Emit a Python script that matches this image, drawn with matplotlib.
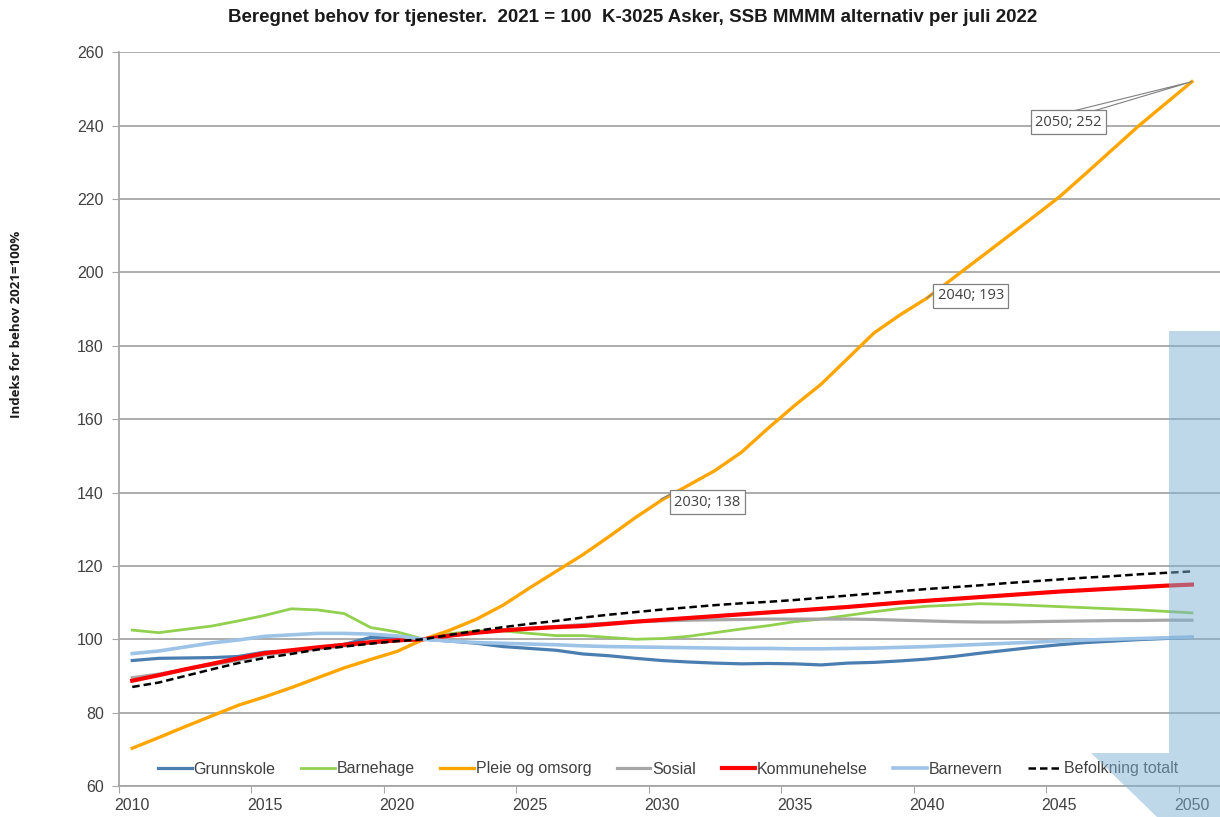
import numpy as np
import matplotlib
matplotlib.use('Agg')
import matplotlib.pyplot as plt
from matplotlib.patches import Polygon

plt.rcParams['font.family'] = ['Liberation Sans', 'DejaVu Sans']

years = list(range(2010, 2051))

grunnskole = [94.2, 94.8, 94.9, 95.0, 95.3, 96.5, 96.8, 97.6, 98.6, 100.5, 100.6,
              100.0, 99.5, 98.9, 98.0, 97.5, 97.0, 96.0, 95.5, 94.8, 94.2,
              93.8, 93.5, 93.3, 93.4, 93.3, 93.0, 93.5, 93.7, 94.1, 94.6,
              95.3, 96.2, 97.0, 97.8, 98.5, 99.1, 99.5, 99.9, 100.2, 100.5]
barnehage = [102.5, 101.8, 102.7, 103.6, 105.0, 106.5, 108.3, 108.0, 107.0, 103.2, 102.0,
             100.0, 101.5, 102.3, 102.3, 101.6, 101.0, 101.0, 100.5, 100.0, 100.2,
             100.8, 101.8, 102.8, 103.7, 104.8, 105.5, 106.5, 107.5, 108.4, 109.0,
             109.3, 109.7, 109.5, 109.2, 108.9, 108.6, 108.3, 108.0, 107.6, 107.2]
pleie = [70.3, 73.2, 76.2, 79.1, 82.0, 84.3, 86.8, 89.5, 92.2, 94.5, 96.7,
         100.0, 102.5, 105.5, 109.3, 114.0, 118.5, 123.0, 128.0, 133.2, 138.0,
         142.0, 146.0, 151.0, 157.5, 163.7, 169.5, 176.5, 183.5, 188.5, 193.0,
         198.5, 204.0, 209.5, 215.0, 220.6, 227.0, 233.5, 240.0, 246.0, 252.0]
sosial = [89.5, 90.5, 91.8, 93.0, 94.3, 95.8, 96.6, 97.4, 98.2, 99.0, 99.6,
          100.0, 101.0, 101.8, 102.5, 103.0, 103.5, 104.0, 104.4, 104.8, 105.0,
          105.2, 105.3, 105.4, 105.5, 105.5, 105.5, 105.5, 105.4, 105.2, 105.0,
          104.8, 104.7, 104.7, 104.8, 104.9, 105.0, 105.1, 105.1, 105.2, 105.2]
kommunehelse = [88.7, 90.2, 91.8, 93.3, 94.8, 96.2, 97.0, 97.8, 98.5, 99.2, 99.7,
                100.0, 101.0, 101.8, 102.4, 102.9, 103.3, 103.6, 104.2, 104.8, 105.3,
                105.8, 106.3, 106.8, 107.3, 107.8, 108.3, 108.8, 109.4, 110.0, 110.5,
                111.0, 111.5, 112.0, 112.5, 113.0, 113.4, 113.8, 114.2, 114.6, 114.9]
barnevern = [96.1, 96.8, 97.9, 99.0, 99.8, 100.8, 101.2, 101.6, 101.6, 101.4, 100.9,
             100.0, 99.5, 99.1, 98.9, 98.7, 98.5, 98.2, 98.0, 97.9, 97.8,
             97.7, 97.6, 97.5, 97.5, 97.4, 97.4, 97.5, 97.6, 97.8, 98.0,
             98.3, 98.6, 98.9, 99.2, 99.5, 99.8, 100.0, 100.2, 100.4, 100.6]
befolkning = [87.0, 88.2, 90.0, 91.8, 93.5, 94.9, 96.0, 97.2, 98.0, 98.8, 99.5,
              100.0, 101.2, 102.3, 103.3, 104.2, 105.0, 105.9, 106.7, 107.4, 108.1,
              108.7, 109.3, 109.8, 110.2, 110.7, 111.3, 111.9, 112.5, 113.1, 113.7,
              114.2, 114.7, 115.3, 115.8, 116.3, 116.8, 117.2, 117.7, 118.1, 118.5]

labelled_years = [2030, 2040, 2050]
xtick_labels = ['2010', '2015', '2020', '2025', '2030', '2035', '2040', '2045', '2050']

fig = plt.figure(figsize=(12.2, 8.17), dpi=100)
ax = fig.add_axes([119/1220, 1-786/817, 1-119/1220, (786-52.3)/817])

ax.plot(years, grunnskole, color='#4a7eb0', lw=2.3, label='Grunnskole')
ax.plot(years, barnehage, color='#92d050', lw=2.0, label='Barnehage')
ax.plot(years, pleie, color='#ffa500', lw=2.4, label='Pleie og omsorg')
ax.plot(years, sosial, color='#a6a6a6', lw=2.3, label='Sosial')
ax.plot(years, kommunehelse, color='#ff0000', lw=3.0, label='Kommunehelse')
ax.plot(years, barnevern, color='#9dc3e6', lw=2.6, label='Barnevern')
ax.plot(years, befolkning, color='black', lw=1.8, ls=(0, (3, 1.6)), label='Befolkning totalt')

ax.set_xlim(2009.5, 2051.06)
ax.set_ylim(60, 260)
ax.set_yticks(range(60, 261, 20))
ax.yaxis.grid(True, color='#a6a6a6', lw=1.3)
ax.set_axisbelow(True)
ax.set_xticks(np.arange(2009.5, 2051, 5))
ax.set_xticklabels([])
ax.set_xticks(range(2010, 2051, 5), minor=True)
ax.set_xticklabels(xtick_labels, minor=True)
ax.tick_params(axis='x', which='major', length=5, color='#a6a6a6', direction='out')
ax.tick_params(axis='x', which='minor', length=0, pad=9, labelsize=11.5, labelcolor='#404040')
ax.tick_params(axis='y', length=5, color='#a6a6a6', labelsize=11.5, labelcolor='#404040', pad=6)
for s in ['top', 'right']:
    ax.spines[s].set_visible(False)
for s in ['left', 'bottom']:
    ax.spines[s].set_color('#a6a6a6')
    ax.spines[s].set_linewidth(1.3)

fig.text(633/1220, 1-17/817, 'Beregnet behov for tjenester.  2021 = 100  K-3025 Asker, SSB MMMM alternativ per juli 2022',
         ha='center', va='center', fontsize=13.5, fontweight='bold', color='#1a1a1a')
fig.text(17/1220, 1-324/817, 'Indeks for behov 2021=100%', rotation=90, ha='center', va='center',
         fontsize=9.5, fontweight='bold', family=['Open Sans', 'DejaVu Sans'], color='#1a1a1a')

leg = ax.legend(loc='center', bbox_to_anchor=((668.5-120)/1100, 1-(769-52.3)/(786-52.3)), ncol=7,
                frameon=False, fontsize=11.5, handlelength=2.1, handletextpad=0.12, columnspacing=1.6)
for t in leg.get_texts():
    t.set_color('#404040')

# data labels for Pleie og omsorg
box = dict(boxstyle='square,pad=0.3', fc='white', ec='#808080', lw=0.9)
lab_pos = {2030: (2031.7, 137.4), 2040: (2041.66, 193.6), 2050: (2045.35, 240.9)}
for yr in labelled_years:
    v = pleie[years.index(yr)]
    tx, ty = lab_pos[yr]
    ax.text(tx, ty, '%d; %d' % (yr, round(v)), ha='center', va='center', fontsize=10.5,
            family=['Open Sans', 'DejaVu Sans'], color='#404040', bbox=box, zorder=6)
ax.plot([2029.95, 2030.3], [138.2, 139.5], color='#808080', lw=0.8, zorder=5)
ax.plot([2040.0, 2040.2], [193.0, 194.2], color='#808080', lw=0.8, zorder=5)
ax.plot([2045.57, 2050, 2046.33], [244.1, 252.0, 244.1], color='#808080', lw=0.8, zorder=5)

# light blue overlay shape on the right
pts = [(1169, 331), (1220, 331), (1220, 817), (1157, 817), (1091, 753), (1169, 753)]
poly = Polygon([(x/1220, 1-y/817) for x, y in pts], closed=True, transform=fig.transFigure,
               fc='#7fb0d4', ec='none', alpha=0.5, zorder=10)
fig.patches.append(poly)

fig.savefig('out.png', dpi=100)
